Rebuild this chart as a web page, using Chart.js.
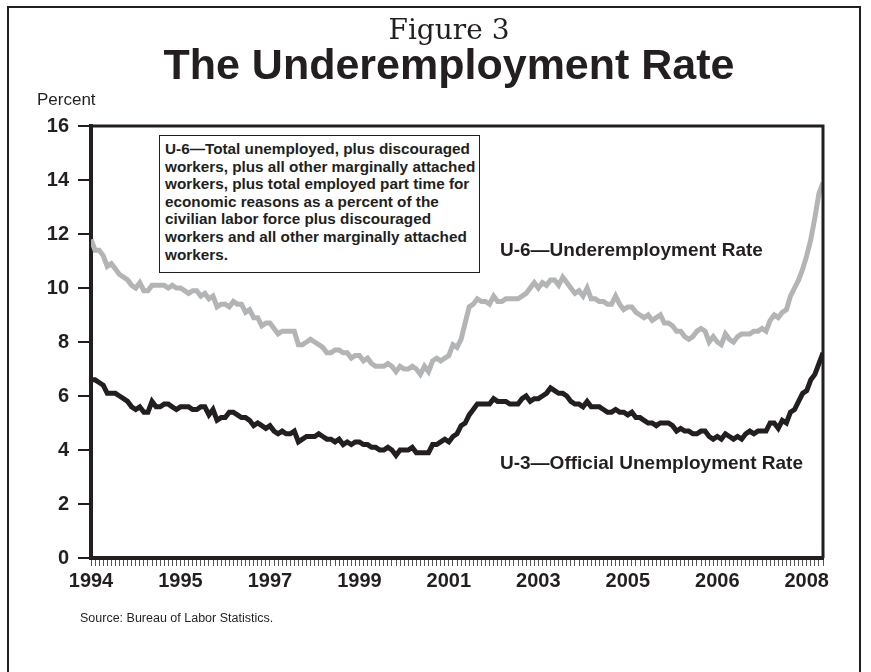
<!DOCTYPE html>
<html>
<head>
<meta charset="utf-8">
<script src="https://cdn.jsdelivr.net/npm/chart.js@4.4.1/dist/chart.umd.min.js"></script>
<style>
    body { margin: 0; background: #fff; }
    #wrap { position: relative; width: 871px; height: 672px; overflow: hidden; font-family: "Liberation Sans", Arial, sans-serif; color: #231f20; }
    #frame { position: absolute; left: 7px; top: 6px; width: 850px; height: 720px; border: 2px solid #231f20; }
    canvas { position: absolute; left: 0; top: 0; }
    .t { position: absolute; white-space: nowrap; }
    #fig { left: 0; width: 898px; top: 13px; text-align: center; font-family: "DejaVu Serif", serif; font-size: 28px; }
    #title { left: 0; width: 898px; top: 40px; text-align: center; font-weight: bold; font-size: 43px; }
    #percent { left: 37px; top: 90px; font-size: 17px; }
    #note { position: absolute; left: 159px; top: 135px; width: 314px; height: 132px; border: 1.5px solid #231f20; background: #fff;
            padding: 4px 0 0 5px; font-weight: bold; font-size: 15.3px; line-height: 17.6px; }
    .lab { font-weight: bold; font-size: 19px; }
    #source { left: 80px; top: 611px; font-size: 12.5px; }
</style>
</head>
<body>
<div id="wrap">
    <div id="frame"></div>
    <canvas id="chart" width="871" height="672"></canvas>
    <div class="t" id="fig">Figure 3</div>
    <div class="t" id="title">The Underemployment Rate</div>
    <div class="t" id="percent">Percent</div>
    <div id="note">U-6—Total unemployed, plus discouraged<br>workers, plus all other marginally attached<br>workers, plus total employed part time for<br>economic reasons as a percent of the<br>civilian labor force plus discouraged<br>workers and all other marginally attached<br>workers.</div>
    <div class="t lab" style="left:500px; top:239px;">U-6—Underemployment Rate</div>
    <div class="t lab" style="left:500px; top:452px;">U-3—Official Unemployment Rate</div>
    <div class="t" id="source">Source: Bureau of Labor Statistics.</div>
</div>
<script>
// monthly, Jan 1994 .. Jan 2009
const u3 = [
    6.6, 6.6, 6.5, 6.4, 6.1, 6.1, 6.1, 6.0, 5.9, 5.8, 5.6, 5.5,
    5.6, 5.4, 5.4, 5.8, 5.6, 5.6, 5.7, 5.7, 5.6, 5.5, 5.6, 5.6,
    5.6, 5.5, 5.5, 5.6, 5.6, 5.3, 5.5, 5.1, 5.2, 5.2, 5.4, 5.4,
    5.3, 5.2, 5.2, 5.1, 4.9, 5.0, 4.9, 4.8, 4.9, 4.7, 4.6, 4.7,
    4.6, 4.6, 4.7, 4.3, 4.4, 4.5, 4.5, 4.5, 4.6, 4.5, 4.4, 4.4,
    4.3, 4.4, 4.2, 4.3, 4.2, 4.3, 4.3, 4.2, 4.2, 4.1, 4.1, 4.0,
    4.0, 4.1, 4.0, 3.8, 4.0, 4.0, 4.0, 4.1, 3.9, 3.9, 3.9, 3.9,
    4.2, 4.2, 4.3, 4.4, 4.3, 4.5, 4.6, 4.9, 5.0, 5.3, 5.5, 5.7,
    5.7, 5.7, 5.7, 5.9, 5.8, 5.8, 5.8, 5.7, 5.7, 5.7, 5.9, 6.0,
    5.8, 5.9, 5.9, 6.0, 6.1, 6.3, 6.2, 6.1, 6.1, 6.0, 5.8, 5.7,
    5.7, 5.6, 5.8, 5.6, 5.6, 5.6, 5.5, 5.4, 5.4, 5.5, 5.4, 5.4,
    5.3, 5.4, 5.2, 5.2, 5.1, 5.0, 5.0, 4.9, 5.0, 5.0, 5.0, 4.9,
    4.7, 4.8, 4.7, 4.7, 4.6, 4.6, 4.7, 4.7, 4.5, 4.4, 4.5, 4.4,
    4.6, 4.5, 4.4, 4.5, 4.4, 4.6, 4.7, 4.6, 4.7, 4.7, 4.7, 5.0,
    5.0, 4.8, 5.1, 5.0, 5.4, 5.5, 5.8, 6.1, 6.2, 6.6, 6.8, 7.2,
    7.6
];
const u6 = [
    11.8, 11.4, 11.4, 11.2, 10.8, 10.9, 10.7, 10.5, 10.4, 10.3, 10.1, 10.0,
    10.2, 9.9, 9.9, 10.1, 10.1, 10.1, 10.1, 10.0, 10.1, 10.0, 10.0, 9.9,
    9.8, 9.9, 9.9, 9.7, 9.8, 9.6, 9.7, 9.3, 9.4, 9.4, 9.3, 9.5,
    9.4, 9.4, 9.1, 9.2, 8.9, 8.9, 8.6, 8.7, 8.7, 8.5, 8.3, 8.4,
    8.4, 8.4, 8.4, 7.9, 7.9, 8.0, 8.1, 8.0, 7.9, 7.8, 7.6, 7.6,
    7.7, 7.7, 7.6, 7.6, 7.4, 7.5, 7.5, 7.3, 7.4, 7.2, 7.1, 7.1,
    7.1, 7.2, 7.1, 6.9, 7.1, 7.0, 7.0, 7.1, 7.0, 6.8, 7.1, 6.9,
    7.3, 7.4, 7.3, 7.4, 7.5, 7.9, 7.8, 8.1, 8.7, 9.3, 9.4, 9.6,
    9.5, 9.5, 9.4, 9.7, 9.5, 9.5, 9.6, 9.6, 9.6, 9.6, 9.7, 9.8,
    10.0, 10.2, 10.0, 10.2, 10.1, 10.3, 10.3, 10.1, 10.4, 10.2, 10.0, 9.8,
    9.9, 9.7, 10.0, 9.6, 9.6, 9.5, 9.5, 9.4, 9.4, 9.7, 9.4, 9.2,
    9.3, 9.3, 9.1, 9.0, 8.9, 9.0, 8.8, 8.9, 9.0, 8.7, 8.7, 8.6,
    8.4, 8.4, 8.2, 8.1, 8.2, 8.4, 8.5, 8.4, 8.0, 8.2, 8.0, 7.9,
    8.3, 8.1, 8.0, 8.2, 8.3, 8.3, 8.3, 8.4, 8.4, 8.5, 8.4, 8.8,
    9.0, 8.9, 9.1, 9.2, 9.7, 10.0, 10.3, 10.7, 11.2, 11.8, 12.6, 13.5,
    13.9
];
// axis labels as printed on the figure, at evenly spaced month positions
const yearLabels = ['1994', '1995', '1997', '1999', '2001', '2003', '2005', '2006', '2008'];
const yearPos = [0, 22, 44, 66, 88, 110, 132, 154, 176];
const yTicks = [0, 2, 4, 6, 8, 10, 12, 14, 16];

const ink = '#231f20';
const toPoints = arr => arr.map((v, i) => ({ x: i, y: v }));

// box the top and right side of the plot
const boxPlugin = {
    id: 'box',
    afterDatasetsDraw(chart) {
        const a = chart.chartArea;
        const ctx = chart.ctx;
        ctx.save();
        ctx.strokeStyle = ink;
        ctx.lineWidth = 3;
        ctx.beginPath();
        ctx.moveTo(a.left, a.top);
        ctx.lineTo(a.right, a.top);
        ctx.lineTo(a.right, a.bottom);
        ctx.stroke();
        ctx.restore();
    }
};

new Chart(document.getElementById('chart'), {
    type: 'line',
    data: {
        datasets: [{
            label: 'U-6',
            data: toPoints(u6),
            borderColor: '#b3b4b6',
            borderWidth: 5,
            pointRadius: 0,
            tension: 0
        }, {
            label: 'U-3',
            data: toPoints(u3),
            borderColor: ink,
            borderWidth: 5,
            pointRadius: 0,
            tension: 0
        }]
    },
    options: {
        responsive: false,
        animation: false,
        layout: { padding: { left: 0, top: 126, right: 48, bottom: 74 } },
        plugins: { legend: { display: false }, tooltip: { enabled: false } },
        scales: {
            x: {
                type: 'linear',
                min: 0,
                max: 180,
                afterBuildTicks: scale => { scale.ticks = u3.map((v, i) => ({ value: i })); },
                afterFit: scale => { scale.height = 8; },
                ticks: { display: false, autoSkip: false },
                grid: { drawOnChartArea: false, tickLength: 8, color: '#555', lineWidth: 1 },
                border: { display: true, width: 4, color: ink }
            },
            x2: {
                type: 'linear',
                position: 'bottom',
                min: 0,
                max: 180,
                afterBuildTicks: scale => { scale.ticks = yearPos.map(v => ({ value: v })); },
                afterFit: scale => { scale.height = 32; },
                ticks: {
                    autoSkip: false,
                    maxRotation: 0,
                    padding: 3,
                    color: ink,
                    font: { family: '"Liberation Sans", Arial, sans-serif', size: 20, weight: 'bold' },
                    callback: (value, index) => yearLabels[index]
                },
                grid: { display: false, drawTicks: false },
                border: { display: false }
            },
            y: {
                min: 0,
                max: 16,
                afterBuildTicks: scale => { scale.ticks = yTicks.map(v => ({ value: v })); },
                afterFit: scale => { scale.width = 91; },
                ticks: {
                    padding: 9,
                    color: ink,
                    font: { family: '"Liberation Sans", Arial, sans-serif', size: 20, weight: 'bold' }
                },
                grid: { drawOnChartArea: false, tickLength: 13, lineWidth: 2, color: ink },
                border: { display: true, width: 4, color: ink }
            }
        }
    },
    plugins: [boxPlugin]
});
</script>
</body>
</html>
